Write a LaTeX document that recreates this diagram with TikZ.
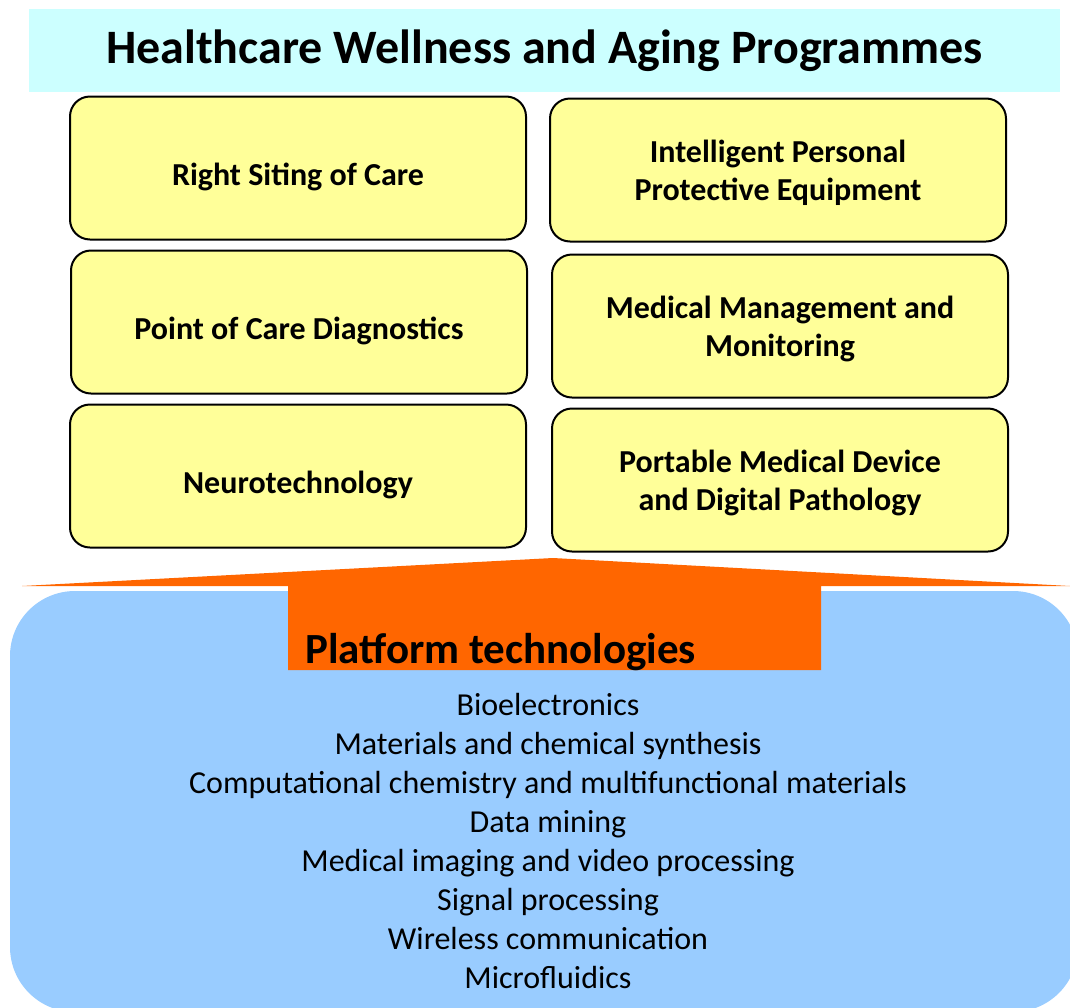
\documentclass[tikz,border=0pt]{standalone}
\usepackage{fontspec}
\setmainfont{Carlito}
\usepackage{tikz}

\definecolor{titlecyan}{HTML}{CCFFFF}
\definecolor{progyellow}{HTML}{FFFF99}
\definecolor{arroworange}{HTML}{FF6600}
\definecolor{platblue}{HTML}{99CCFF}

\begin{document}
\begin{tikzpicture}
  [x=1pt,y=-1pt,
   prog/.style={draw=black,line width=2pt,rounded corners=20pt,fill=progyellow,
     minimum width=456pt,minimum height=143pt,align=center,
     font=\fontsize{32}{38}\selectfont\bfseries},
   oneline/.style={text height=35pt,text depth=0pt},
   twoline/.style={text height=60pt,text depth=0pt},
   item/.style={anchor=base,inner sep=0pt,font=\fontsize{32}{39}\selectfont}]
  \clip (0,0) rectangle (1070,1007);

  % heading band
  \node[fill=titlecyan,minimum width=1031pt,minimum height=83pt,
    font=\fontsize{48}{50}\selectfont\bfseries] (title) at (544.5,50.5)
    {Healthcare Wellness and Aging Programmes};

  \node[prog,oneline] (siting) at (298,168)  {Right Siting of Care};
  \node[prog,oneline] (poc)    at (299,322)  {Point of Care Diagnostics};
  \node[prog,oneline] (neuro)  at (298,476)  {Neurotechnology};
  \node[prog,twoline] (ppe)    at (778,170)  {Intelligent Personal\\Protective Equipment};
  \node[prog,twoline] (mgmt)   at (780,326)  {Medical Management and\\Monitoring};
  \node[prog,twoline] (device) at (780,480)  {Portable Medical Device\\and Digital Pathology};

  % platform base
  \fill[platblue,rounded corners=65pt] (10,591) rectangle (1078,1012);
  \fill[arroworange] (22,586) -- (553,558) -- (1070,586) -- (821,586)
    -- (821,670) -- (288,670) -- (288,586) -- cycle;

  \node[anchor=base west,inner sep=0pt,font=\fontsize{43}{45}\selectfont\bfseries]
    (platform) at (305,663) {Platform technologies};

  \foreach \t [count=\i] in {Bioelectronics,
      Materials and chemical synthesis,
      Computational chemistry and multifunctional materials,
      Data mining,
      Medical imaging and video processing,
      Signal processing,
      Wireless communication,
      Microfluidics}
    \node[item] (item\i) at (548,{676+39*\i}) {\t};

\end{tikzpicture}
\end{document}
